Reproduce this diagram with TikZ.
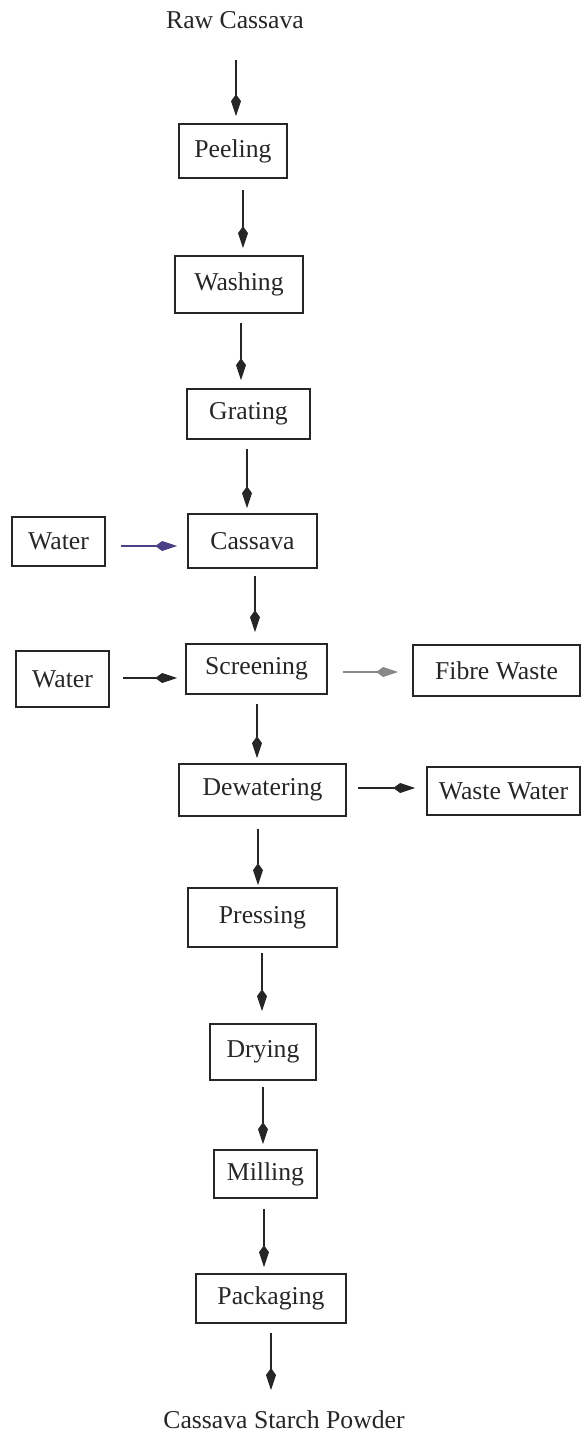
\documentclass[tikz,border=0pt]{standalone}
\usepackage{fontspec}
\setmainfont{Liberation Serif}
\usetikzlibrary{arrows.meta}
\definecolor{ink}{HTML}{262626}
\definecolor{inflow}{HTML}{4B3F86}
\begin{document}
\begin{tikzpicture}[x=1pt,y=-1pt,
  every node/.style={font=\fontsize{25.7}{30}\selectfont, text=ink},
  stage/.style={draw=ink, line width=1.6pt, inner sep=0pt, anchor=center},
  flow/.style={draw=ink, line width=1.2pt,
    -{Kite[length=22pt,width=10pt,inset=7pt]}},
]
\useasboundingbox (0,0) rectangle (581,1437);

% main process chain
\node (raw) at (235,20) {Raw Cassava};
\node[stage, minimum width=108pt, minimum height=54pt] (peel)  at (233,151)    {Peeling};
\node[stage, minimum width=128pt, minimum height=57pt] (wash)  at (239,284.5)  {Washing};
\node[stage, minimum width=123pt, minimum height=50pt] (grat)  at (248.5,414)  {Grating};
\node[stage, minimum width=129pt, minimum height=54pt] (cass)  at (252.5,541)  {Cassava};
\node[stage, minimum width=141pt, minimum height=50pt] (scr)   at (256.5,669)  {Screening};
\node[stage, minimum width=167pt, minimum height=52pt] (dew)   at (262.5,790)  {Dewatering};
\node[stage, minimum width=149pt, minimum height=59pt] (press) at (262.5,917.5){Pressing};
\node[stage, minimum width=106pt, minimum height=56pt] (dry)   at (263,1052)   {Drying};
\node[stage, minimum width=103pt, minimum height=48pt] (mill)  at (265.5,1174) {Milling};
\node[stage, minimum width=150pt, minimum height=49pt] (pack)  at (271,1298.5) {Packaging};
\node (powder) at (284,1420) {Cassava Starch Powder};

% side inputs and outputs
\node[stage, minimum width=93pt,  minimum height=49pt] (wat1)  at (58.5,541.5) {Water};
\node[stage, minimum width=93pt,  minimum height=56pt] (wat2)  at (62.5,679)   {Water};
\node[stage, minimum width=167pt, minimum height=51pt] (fibre) at (496.5,670.5){Fibre Waste};
\node[stage, minimum width=153pt, minimum height=48pt] (ww)    at (503.5,791)  {Waste Water};

% vertical flow
\draw[flow] ([shift={(1,40)}]raw.center)     -- ([shift={(3,-7)}]peel.north);
\draw[flow] ([shift={(10,11)}]peel.south)    -- ([shift={(4,-7)}]wash.north);
\draw[flow] ([shift={(2,9)}]wash.south)      -- ([shift={(-7.5,-8)}]grat.north);
\draw[flow] ([shift={(-1.5,9)}]grat.south)   -- ([shift={(-5.5,-5)}]cass.north);
\draw[flow] ([shift={(2.5,7)}]cass.south)    -- ([shift={(-1.5,-11)}]scr.north);
\draw[flow] ([shift={(0.5,9)}]scr.south)     -- ([shift={(-5.5,-5)}]dew.north);
\draw[flow] ([shift={(-4.5,12)}]dew.south)   -- ([shift={(-4.5,-2)}]press.north);
\draw[flow] ([shift={(-0.5,5)}]press.south)  -- ([shift={(-1,-12)}]dry.north);
\draw[flow] ([shift={(0,6)}]dry.south)       -- ([shift={(-2.5,-5)}]mill.north);
\draw[flow] ([shift={(-1.5,10)}]mill.south)  -- ([shift={(-7,-6)}]pack.north);
\draw[flow] ([shift={(0,9)}]pack.south)      -- ([shift={(-13,-30)}]powder.center);

% horizontal flow
\draw[flow, draw=inflow] ([shift={(15,4.5)}]wat1.east) -- ([shift={(-10,5)}]cass.west);
\draw[flow] ([shift={(13,-1)}]wat2.east)     -- ([shift={(-8,9)}]scr.west);
\draw[flow, draw=ink!55] ([shift={(15,3)}]scr.east) -- ([shift={(-14,1.5)}]fibre.west);
\draw[flow] ([shift={(11,-2)}]dew.east)      -- ([shift={(-11,-3)}]ww.west);
\end{tikzpicture}
\end{document}
